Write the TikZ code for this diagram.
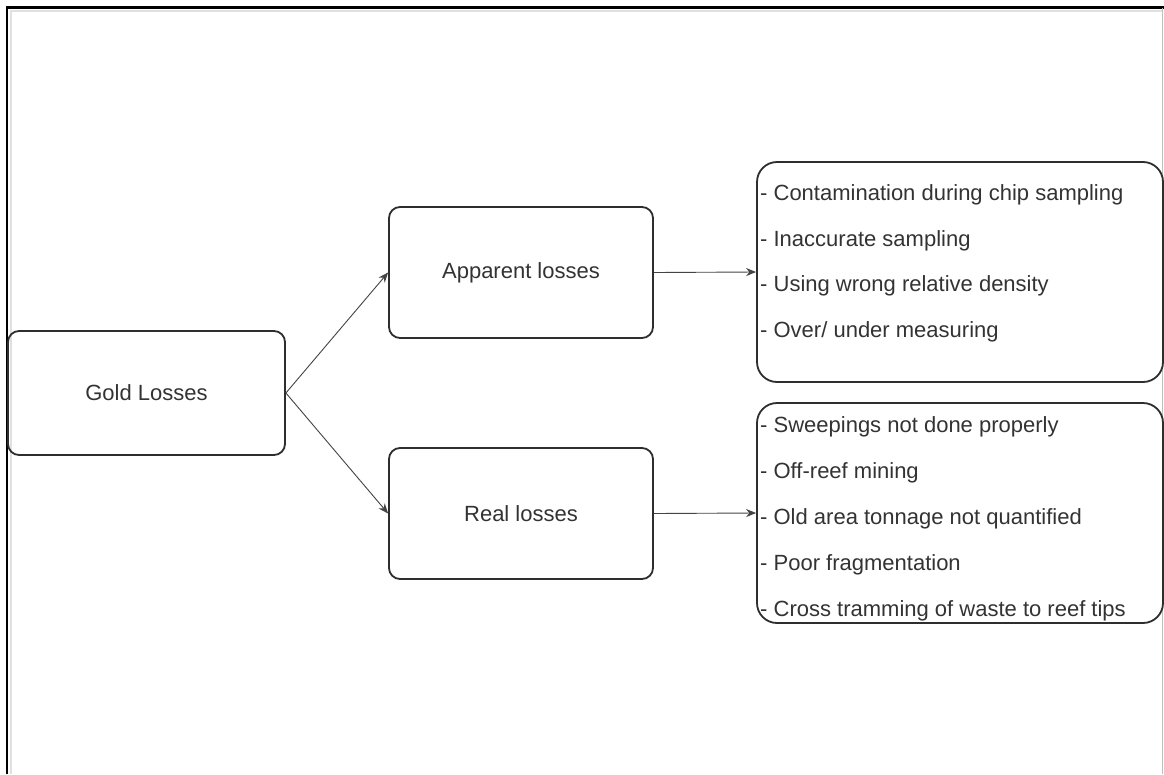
\documentclass[tikz,border=0pt]{standalone}
\usepackage{fontspec}
\setmainfont{Liberation Sans}
\usetikzlibrary{arrows.meta}
\definecolor{edge}{HTML}{2E2E2E}
\definecolor{txt}{HTML}{333333}
\definecolor{arr}{HTML}{444444}
\tikzset{
  box/.style={draw=edge, line width=1.8pt, rounded corners=11pt, inner sep=0pt,
    text=txt, font=\fontsize{22}{26}\selectfont},
  listbox/.style={draw=edge, line width=1.8pt, rounded corners=20pt, inner sep=0pt},
  item/.style={anchor=west, inner sep=0pt, text=txt, text height=0.72em, text depth=0em,
    font=\fontsize{22}{26}\selectfont},
  conn/.style={draw=arr, line width=0.9pt, -{Stealth[length=10pt,width=8pt]}}
}
\begin{document}
\begin{tikzpicture}[x=1pt,y=-1pt]
\useasboundingbox (0,0) rectangle (1164,774);
\fill[white] (0,0) rectangle (1164,774);
% frame
\draw[black!12, line width=2pt] (11,774) -- (11,11) -- (1162,11);
\draw[black, line width=2.2pt] (7,774) -- (7,7.5) -- (1164,7.5);
\draw[black!25, line width=1pt] (1162.5,8) -- (1162.5,774);
% boxes
\node[box, minimum width=277pt, minimum height=124pt] (gold) at (146.5,393) {Gold Losses};
\node[box, minimum width=264pt, minimum height=131pt] (app) at (521,272.5) {Apparent losses};
\node[box, minimum width=264pt, minimum height=131pt] (real) at (521,513.5) {Real losses};
\node[listbox, minimum width=406pt, minimum height=220pt] (applist) at (960,272) {};
\node[listbox, minimum width=406pt, minimum height=220pt] (reallist) at (960,513) {};
% list items
\node[item] (a1) at (760,197) {- Contamination during chip sampling};
\node[item] (a2) at (760,242.5) {- Inaccurate sampling};
\node[item] (a3) at (760,288) {- Using wrong relative density};
\node[item] (a4) at (760,333.5) {- Over/ under measuring};
\node[item] (r1) at (760,429) {- Sweepings not done properly};
\node[item] (r2) at (760,475) {- Off-reef mining};
\node[item] (r3) at (760,521) {- Old area tonnage not quantified};
\node[item] (r4) at (760,567) {- Poor fragmentation};
\node[item] (r5) at (760,613) {- Cross tramming of waste to reef tips};
% connectors
\draw[conn] (gold.east) -- (app.west);
\draw[conn] (gold.east) -- (real.west);
\draw[conn] (app.east) -- (applist.west);
\draw[conn] (real.east) -- (reallist.west);
\end{tikzpicture}
\end{document}
